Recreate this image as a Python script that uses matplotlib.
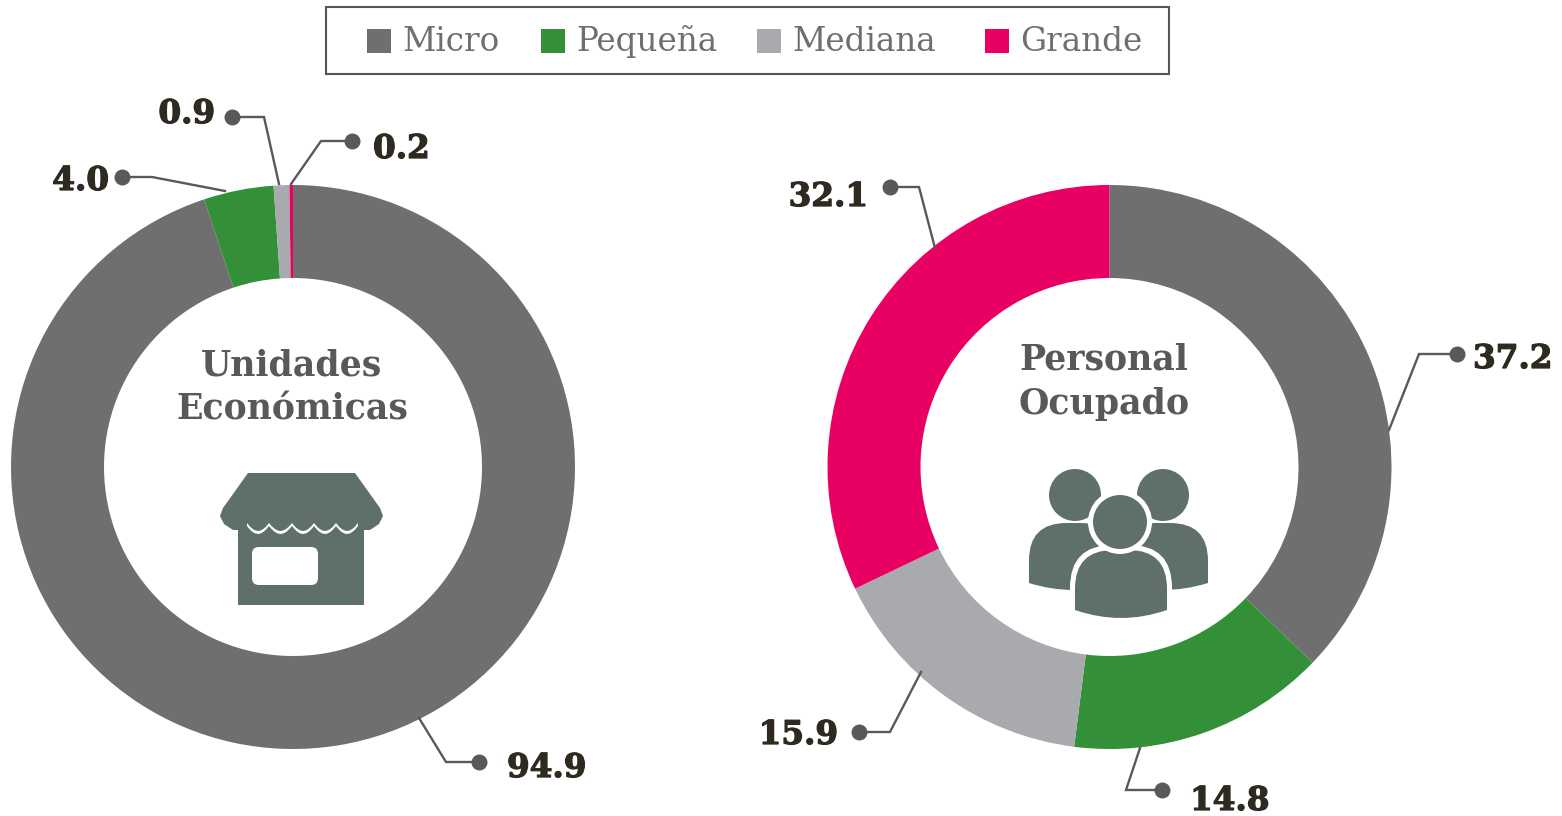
import numpy as np
import matplotlib
matplotlib.use('Agg')
import matplotlib.pyplot as plt
import matplotlib.patheffects as pe
from matplotlib.patches import Rectangle, Polygon, Circle, FancyBboxPatch, PathPatch
from matplotlib.path import Path

categories = ['Micro', 'Pequeña', 'Mediana', 'Grande']
unidades = [94.9, 4.0, 0.9, 0.2]
personal = [37.2, 14.8, 15.9, 32.1]
colors = ['#6f6f6f', '#338f38', '#a9aaae', '#e80062']

W, H = 1562, 816
INK = '#2e2a1f'
DARK = '#58595b'
ICON = '#5f7068'
SERIF = 'DejaVu Serif'

fig = plt.figure(figsize=(W / 100, H / 100), dpi=100)
ax = fig.add_axes([0, 0, 1, 1])


def Y(py):
    # picture pixels run downwards
    return H - py


# donuts
for vals, cx in [(unidades, 293), (personal, 1109.5)]:
    ax.pie(vals, colors=colors, startangle=90, counterclock=False,
           center=(cx, Y(467)), radius=282, wedgeprops=dict(width=93, linewidth=0),
           frame=False)
ax.set_xlim(0, W)
ax.set_ylim(0, H)
ax.set_aspect('equal')
ax.axis('off')

# legend
ax.add_patch(Rectangle((326, Y(74)), 843, 67, fc='white', ec='#555555', lw=1.5))
legend_x = [367, 541, 757, 985]
for name, col, x in zip(categories, colors, legend_x):
    ax.add_patch(Rectangle((x, Y(53)), 24, 24, fc=col, ec='none'))
    ax.text(x + 35, Y(51), name, family=SERIF, fontsize=23.5, color='#6f6f6f',
            va='baseline', ha='left')

# leader lines, dot first and end on the ring last
leaders = [
    ('94.9', [(479, 762), (446, 762), (419, 718)], (507, 777), 'left'),
    ('4.0', [(122, 177), (152, 177), (225, 191)], (109, 190), 'right'),
    ('0.9', [(232, 117), (264, 117), (279, 184)], (215, 123), 'right'),
    ('0.2', [(352, 141), (321, 141), (291, 184)], (373, 158), 'left'),
    ('37.2', [(1457, 354), (1419, 354), (1389, 430)], (1473, 368), 'left'),
    ('14.8', [(1162, 790), (1126, 790), (1140, 748)], (1190, 810), 'left'),
    ('15.9', [(859, 732), (890, 732), (921, 672)], (838, 744), 'right'),
    ('32.1', [(890, 187), (919, 187), (935, 248)], (868, 206), 'right'),
]
for txt, pts, pos, ha in leaders:
    xs = [p[0] for p in pts]
    ys = [Y(p[1]) for p in pts]
    ax.plot(xs, ys, color='#58595b', lw=1.7, solid_joinstyle='miter', zorder=4)
    ax.plot(xs[0], ys[0], 'o', color='#58595b', ms=11.5, mew=0, zorder=5)
    ax.text(pos[0], Y(pos[1]), txt, family=SERIF, fontweight='bold',
            fontsize=23.5, color=INK, ha=ha, va='baseline',
            path_effects=[pe.withStroke(linewidth=0.9, foreground=INK)])

# centre titles
for txt, x, y in [('Unidades', 292, 375), ('Económicas', 292, 419),
                  ('Personal', 1104, 370), ('Ocupado', 1104, 414)]:
    ax.text(x, Y(y), txt, family=SERIF, fontweight='bold', fontsize=25,
            color=DARK, ha='center', va='baseline')

# store icon
ax.add_patch(Rectangle((238, Y(605)), 126, 80, fc=ICON, ec='none', zorder=3))
ax.add_patch(FancyBboxPatch((257, Y(580)), 56, 28, boxstyle='round,pad=5,rounding_size=7',
                            fc='white', ec='none', zorder=4))
scallop_x = [358, 336, 314, 292, 269, 247]
hem = []
for i in range(len(scallop_x) - 1):
    for t in np.linspace(0, 1, 9):
        hem.append((scallop_x[i] + (scallop_x[i + 1] - scallop_x[i]) * t,
                    523 + 8 * np.sin(np.pi * t) ** 0.9))
awning = [(248, 473), (355, 473), (380, 508), (383, 516), (379, 524), (370, 530),
          (358, 530)] + hem + [(247, 530), (233, 530), (224, 524), (220, 516), (223, 508)]
# white gap under the awning, then the awning over it
gap = [(x, y + 3) for x, y in hem]
ax.add_patch(Polygon([(x, Y(y)) for x, y in gap + [(247, 510), (358, 510)]],
                     fc='white', ec='none', zorder=5))
ax.add_patch(Polygon([(x, Y(y)) for x, y in awning], fc=ICON, ec='none', zorder=6))


def body(x0, x1, top, bl, br, bm):
    # shoulders with a rounded top, bottom edge sagging to the middle
    r = (x1 - x0) * 0.42
    verts = [(x0, bl), (x0, top + r), (x0, top), (x0 + r, top), (x1 - r, top),
             (x1, top), (x1, top + r), (x1, br), ((x0 + x1) / 2, bm), (x0, bl), (x0, bl)]
    codes = [Path.MOVETO, Path.LINETO, Path.CURVE3, Path.CURVE3, Path.LINETO,
             Path.CURVE3, Path.CURVE3, Path.LINETO, Path.CURVE3, Path.CURVE3, Path.CLOSEPOLY]
    return Path([(x, Y(y)) for x, y in verts], codes)


# people icon
ax.add_patch(PathPatch(body(1029, 1118, 523, 583, 583, 597), fc=ICON, ec='none', zorder=3))
ax.add_patch(PathPatch(body(1118, 1208, 523, 583, 583, 597), fc=ICON, ec='none', zorder=3))
ax.add_patch(Circle((1075, Y(495)), 26, fc=ICON, ec='none', zorder=3))
ax.add_patch(Circle((1163, Y(495)), 26, fc=ICON, ec='none', zorder=3))
ax.add_patch(PathPatch(body(1070, 1172, 545, 610, 610, 626), fc='white', ec='none', zorder=4))
ax.add_patch(PathPatch(body(1075, 1167, 550, 610, 610, 626), fc=ICON, ec='none', zorder=4))
ax.add_patch(Circle((1120, Y(522)), 32, fc='white', ec='none', zorder=5))
ax.add_patch(Circle((1120, Y(522)), 27, fc=ICON, ec='none', zorder=5))

fig.savefig('out.png', dpi=100)
